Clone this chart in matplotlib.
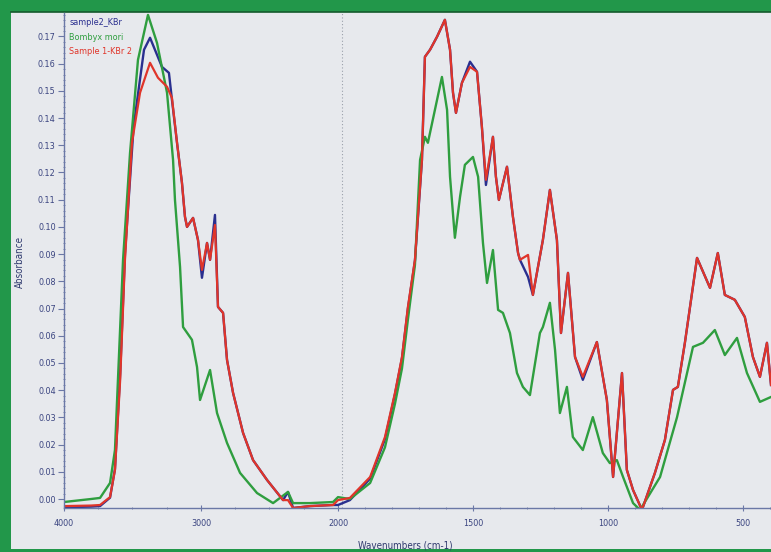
import numpy as np
import matplotlib
matplotlib.use("Agg")
import matplotlib.pyplot as plt
from matplotlib.patches import Rectangle
from matplotlib.ticker import FixedLocator

# === Data ===
wn_red = [4000, 3803, 3737, 3664, 3628, 3590, 3555, 3504, 3445, 3372, 3314, 3248, 3212,
          3175, 3139, 3117, 3102, 3058, 3022, 2993, 2956, 2934, 2898, 2876, 2839, 2810,
          2766, 2693, 2620, 2518, 2401, 2365, 2328, 2204, 2036, 2000, 1956, 1881, 1826,
          1789, 1763, 1741, 1715, 1689, 1678, 1659, 1633, 1604, 1585, 1574, 1563, 1541,
          1511, 1485, 1467, 1452, 1426, 1415, 1404, 1374, 1352, 1333, 1326, 1296, 1278,
          1241, 1215, 1189, 1174, 1148, 1122, 1093, 1041, 1004, 981, 948, 930, 907, 874,
          826, 789, 759, 741, 715, 670, 622, 593, 567, 530, 493, 463, 437, 411, 396]
abs_red = [-0.0026, -0.0024, -0.0022, 0.0007, 0.0107, 0.0438, 0.0879, 0.1309, 0.1493,
           0.1603, 0.1548, 0.1515, 0.1474, 0.1309, 0.1162, 0.1037, 0.1000, 0.1033, 0.0952,
           0.0842, 0.0941, 0.0879, 0.1007, 0.0706, 0.0684, 0.0511, 0.0390, 0.0243, 0.0143,
           0.0070, -0.0004, -0.0004, -0.0033, -0.0026, -0.0022, -0.0004, 0.0004, 0.0081,
           0.0228, 0.0390, 0.0522, 0.0706, 0.0879, 0.1246, 0.1625, 0.1651, 0.1699, 0.1761,
           0.1651, 0.1493, 0.1419, 0.1529, 0.1588, 0.1570, 0.1368, 0.1173, 0.1331, 0.1184,
           0.1099, 0.1221, 0.1037, 0.0904, 0.0879, 0.0897, 0.0750, 0.0952, 0.1136, 0.0952,
           0.0610, 0.0831, 0.0522, 0.0449, 0.0577, 0.0364, 0.0081, 0.0463, 0.0107, 0.0033,
           -0.0040, 0.0096, 0.0217, 0.0401, 0.0412, 0.0574, 0.0886, 0.0776, 0.0904, 0.0750,
           0.0732, 0.0669, 0.0522, 0.0449, 0.0574, 0.0419]

wn_blue = [4000, 3803, 3737, 3664, 3628, 3590, 3555, 3492, 3416, 3372, 3285, 3234, 3212,
           3175, 3139, 3117, 3102, 3058, 3022, 2993, 2956, 2934, 2898, 2876, 2839, 2810,
           2766, 2693, 2620, 2518, 2401, 2365, 2328, 2204, 2036, 2000, 1956, 1881, 1826,
           1789, 1763, 1741, 1715, 1689, 1678, 1659, 1633, 1604, 1585, 1574, 1563, 1541,
           1511, 1485, 1467, 1452, 1426, 1415, 1404, 1374, 1352, 1333, 1326, 1296, 1278,
           1241, 1215, 1189, 1174, 1148, 1122, 1093, 1041, 1004, 981, 948, 930, 907, 874,
           826, 789, 759, 741, 715, 670, 622, 593, 567, 530, 493, 463, 437, 411, 396]
abs_blue = [-0.0030, -0.0028, -0.0026, 0.0005, 0.0110, 0.0460, 0.0900, 0.1368, 0.1651,
            0.1695, 0.1588, 0.1566, 0.1467, 0.1309, 0.1162, 0.1037, 0.1000, 0.1033, 0.0952,
            0.0813, 0.0941, 0.0879, 0.1044, 0.0706, 0.0684, 0.0511, 0.0390, 0.0243, 0.0143,
            0.0070, -0.0004, 0.0026, -0.0033, -0.0026, -0.0022, -0.0022, -0.0004, 0.0075,
            0.0220, 0.0385, 0.0518, 0.0700, 0.0875, 0.1246, 0.1625, 0.1651, 0.1699, 0.1761,
            0.1651, 0.1493, 0.1419, 0.1529, 0.1607, 0.1570, 0.1368, 0.1154, 0.1331, 0.1184,
            0.1099, 0.1221, 0.1037, 0.0904, 0.0879, 0.0816, 0.0750, 0.0952, 0.1136, 0.0952,
            0.0610, 0.0831, 0.0522, 0.0438, 0.0577, 0.0364, 0.0081, 0.0463, 0.0107, 0.0033,
            -0.0040, 0.0096, 0.0217, 0.0401, 0.0412, 0.0574, 0.0886, 0.0776, 0.0904, 0.0750,
            0.0732, 0.0669, 0.0522, 0.0449, 0.0574, 0.0419]

wn_green = [4000, 3803, 3737, 3664, 3628, 3569, 3518, 3460, 3387, 3321, 3248, 3204, 3190,
            3153, 3131, 3066, 3029, 3007, 2934, 2883, 2810, 2715, 2591, 2474, 2365, 2328,
            2204, 2036, 2000, 1956, 1881, 1826, 1789, 1763, 1741, 1715, 1696, 1678, 1667,
            1641, 1615, 1596, 1585, 1567, 1548, 1530, 1500, 1481, 1463, 1448, 1426, 1407,
            1389, 1363, 1337, 1315, 1289, 1252, 1241, 1215, 1196, 1178, 1152, 1130, 1093,
            1056, 1019, 993, 967, 944, 907, 881, 807, 744, 685, 648, 604, 567, 522, 485,
            437, 396]
abs_green = [-0.0011, 0.0000, 0.0004, 0.0059, 0.0180, 0.0879, 0.1272, 0.1614, 0.1779,
             0.1676, 0.1493, 0.1246, 0.1099, 0.0853, 0.0632, 0.0585, 0.0485, 0.0364, 0.0474,
             0.0316, 0.0206, 0.0096, 0.0022, -0.0015, 0.0026, -0.0015, -0.0015, -0.0011,
             0.0007, 0.0000, 0.0059, 0.0190, 0.0350, 0.0480, 0.0660, 0.0860, 0.1246, 0.1331,
             0.1309, 0.1430, 0.1551, 0.1430, 0.1184, 0.0960, 0.1110, 0.1228, 0.1257, 0.1184,
             0.0941, 0.0794, 0.0915, 0.0695, 0.0684, 0.0610, 0.0463, 0.0412, 0.0382, 0.0610,
             0.0632, 0.0721, 0.0548, 0.0316, 0.0412, 0.0228, 0.0180, 0.0301, 0.0169, 0.0132,
             0.0143, 0.0081, -0.0015, -0.0040, 0.0081, 0.0301, 0.0559, 0.0574, 0.0621,
             0.0529, 0.0592, 0.0463, 0.0357, 0.0375]

labels = ["sample2_KBr", "Bombyx mori", "Sample 1-KBr 2"]
y_ticks = [round(0.01 * i, 2) for i in range(18)]
x_ticks = [4000, 3000, 2000, 1500, 1000, 500]

# === Scale: x axis is expanded 2x below 2000 cm-1 ===
BREAK = 2000.0
LOW_SPAN = 507.5  # cm-1 per unit below the break


def fwd(w):
    w = np.asarray(w, dtype=float)
    return np.where(w >= BREAK, w / 1000.0, 2.0 + (w - BREAK) / LOW_SPAN)


def inv(u):
    u = np.asarray(u, dtype=float)
    return np.where(u >= 2.0, u * 1000.0, BREAK + (u - 2.0) * LOW_SPAN)


plt.rcParams['font.family'] = ['DejaVu Sans']
plt.rcParams['font.stretch'] = 'condensed'

fig = plt.figure(figsize=(7.71, 5.52), dpi=100)
fig.patch.set_facecolor('#22974a')
panel_col = '#e7e9ed'
fig.patches.append(Rectangle((11 / 771, 3 / 552), 1, 1 - 15 / 552, transform=fig.transFigure,
                             facecolor=panel_col, edgecolor='none', zorder=-10))
fig.lines.append(plt.Line2D([11 / 771, 1], [1 - 12 / 552, 1 - 12 / 552], transform=fig.transFigure,
                            color='#145a2c', lw=1.2, zorder=-5))

ax = fig.add_axes([64 / 771, 1 - 508 / 552, 1 - 64 / 771, (508 - 13) / 552])
ax.set_zorder(1)
ax.set_facecolor(panel_col)
ax.set_xscale('function', functions=(fwd, inv))
ax.set_xlim(4000, 396)
ax.set_ylim(-0.0033, 0.1786)

ax.plot(wn_blue, abs_blue, color='#2a2f8f', lw=1.7, label=labels[0])
ax.plot(wn_green, abs_green, color='#2f9e3f', lw=1.7, label=labels[1])
ax.plot(wn_red, abs_red, color='#e0352a', lw=1.6, label=labels[2])

ax.axvline(1985, color='#9aa0aa', lw=0.8, ls=(0, (1, 2)), zorder=0)

for s in ['top', 'right']:
    ax.spines[s].set_visible(False)
for s in ['left', 'bottom']:
    ax.spines[s].set_color('#6b78a6')
    ax.spines[s].set_linewidth(1.0)

ax.set_yticks(y_ticks)
ax.set_yticklabels([f"{v:.2f}" for v in y_ticks])
ax.yaxis.set_minor_locator(FixedLocator(np.arange(0, 0.179, 0.002)))
ax.set_xticks(x_ticks)
ax.set_xticklabels([str(v) for v in x_ticks])
ax.xaxis.set_minor_locator(FixedLocator([3750, 3500, 3250, 2750, 2500, 2250] +
                                        list(range(1900, 399, -100))))
ax.tick_params(axis='both', which='major', colors='#6b78a6', labelcolor='#3a4480',
               labelsize=6.5, length=4, width=0.8)
ax.tick_params(axis='y', which='major', direction='out', pad=2)
ax.tick_params(axis='x', which='major', direction='inout', pad=6)
ax.tick_params(axis='both', which='minor', direction='inout', length=2, width=0.6,
               colors='#6b78a6')

leg = ax.legend(loc='upper left', bbox_to_anchor=(0.0, 1.0), frameon=False, handlelength=0,
                handletextpad=0, labelcolor='linecolor', fontsize=6.5, borderaxespad=0.2,
                labelspacing=0.6)
for h in leg.legend_handles:
    h.set_visible(False)

fig.text(20 / 771, 1 - 262 / 552, "Absorbance", rotation=90, ha='center', va='center',
         fontsize=7, color='#2f3a6e')
fig.text(405 / 771, 1 - 545 / 552, "Wavenumbers (cm-1)", ha='center', va='center',
         fontsize=7, color='#2f3a6e')

fig.savefig("out.png", dpi=100, facecolor=fig.get_facecolor())
